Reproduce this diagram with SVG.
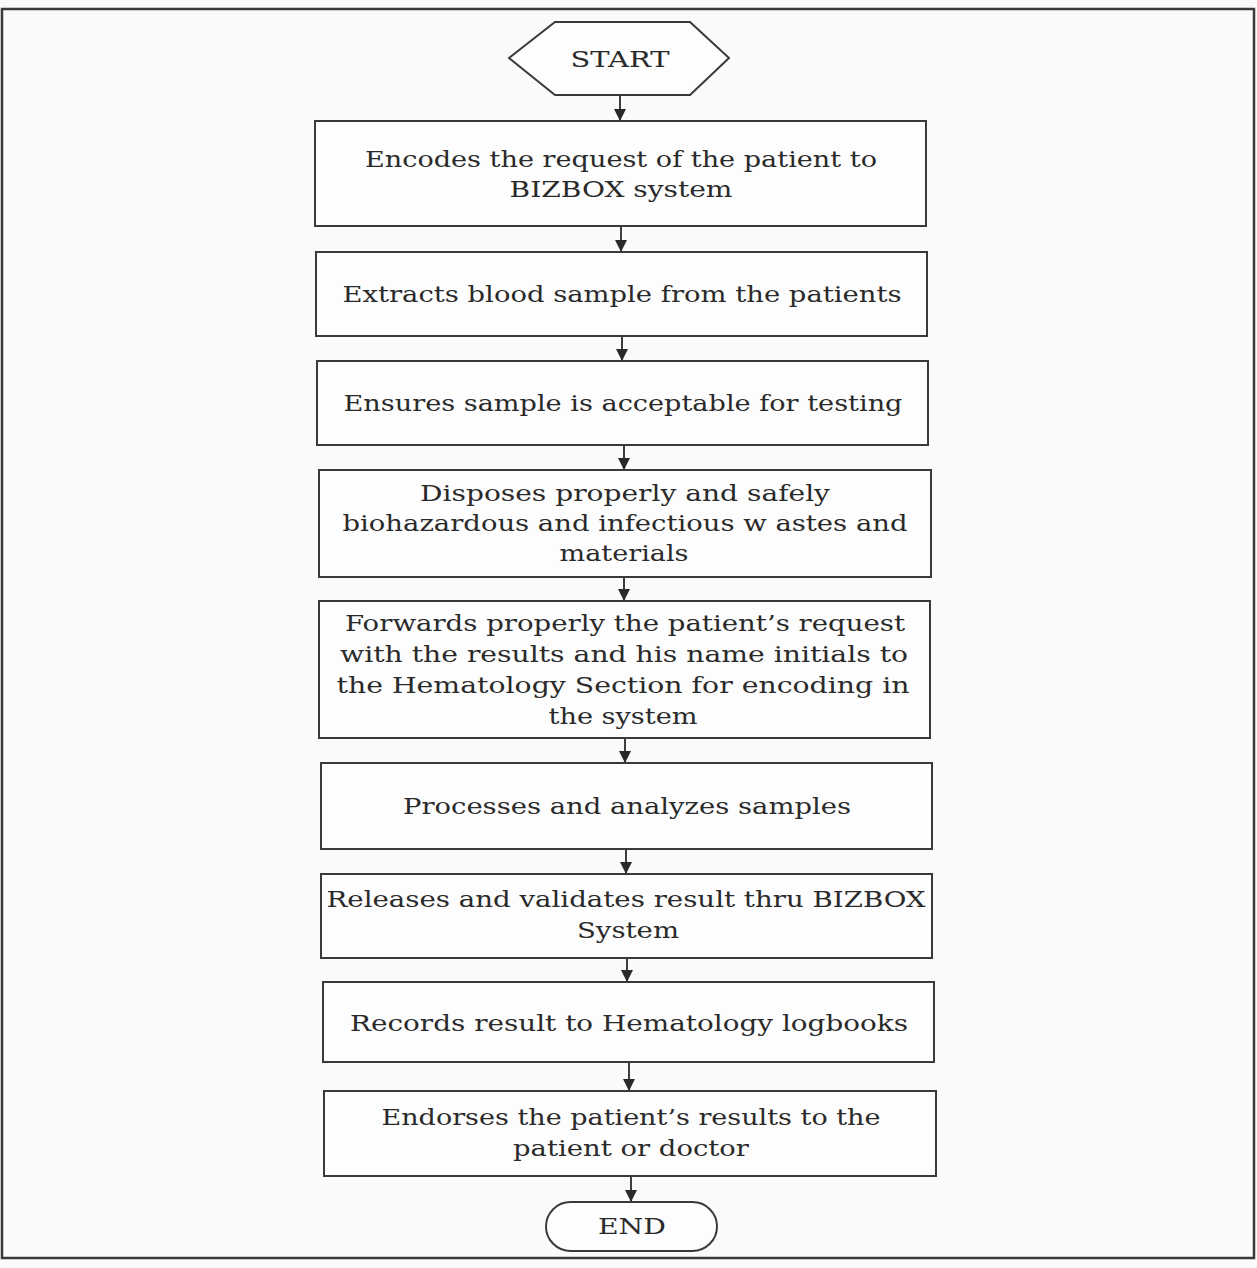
<svg xmlns="http://www.w3.org/2000/svg" width="1257" height="1268" viewBox="0 0 1257 1268">
<defs>
<marker id="ah" viewBox="0 0 10 10" refX="10" refY="5" markerWidth="12" markerHeight="12" markerUnits="userSpaceOnUse" orient="auto">
<path d="M0,0 L10,5 L0,10 z" fill="#2a2a2a"/>
</marker>
<style>
.box{fill:#fdfdfd;stroke:#3a3a3a;stroke-width:2}
.t{font-family:"DejaVu Serif","Liberation Serif",serif;font-size:23px;fill:#2a2a2a;text-anchor:middle}
.c{stroke:#2a2a2a;stroke-width:1.8;fill:none;marker-end:url(#ah)}
</style>
</defs>
<rect x="0" y="0" width="1257" height="1268" fill="#fafafa"/>
<rect x="2" y="9" width="1252" height="1249" fill="none" stroke="#3a3a3a" stroke-width="2.5"/>

<g id="connectors">
<line class="c" x1="620" y1="95" x2="620" y2="121"/>
<line class="c" x1="621" y1="226" x2="621" y2="252"/>
<line class="c" x1="622" y1="336" x2="622" y2="361"/>
<line class="c" x1="624" y1="445" x2="624" y2="470"/>
<line class="c" x1="624" y1="577" x2="624" y2="601"/>
<line class="c" x1="625" y1="738" x2="625" y2="763"/>
<line class="c" x1="626" y1="849" x2="626" y2="874"/>
<line class="c" x1="627" y1="958" x2="627" y2="982"/>
<line class="c" x1="629" y1="1062" x2="629" y2="1091"/>
<line class="c" x1="631" y1="1176" x2="631" y2="1202"/>
</g>

<g id="start">
<polygon class="box" points="555,22 690,22 729,58 690,95 555,95 509,58"/>
<text class="t" x="620" y="67" textLength="99" lengthAdjust="spacingAndGlyphs">START</text>
</g>

<g id="n1">
<rect class="box" x="315" y="121" width="611" height="105"/>
<text class="t" x="621" y="167" textLength="512" lengthAdjust="spacingAndGlyphs">Encodes the request of the patient to</text>
<text class="t" x="621" y="197" textLength="223" lengthAdjust="spacingAndGlyphs">BIZBOX system</text>
</g>

<g id="n2">
<rect class="box" x="316" y="252" width="611" height="84"/>
<text class="t" x="622" y="302" textLength="559" lengthAdjust="spacingAndGlyphs">Extracts blood sample from the patients</text>
</g>

<g id="n3">
<rect class="box" x="317" y="361" width="611" height="84"/>
<text class="t" x="623" y="411" textLength="559" lengthAdjust="spacingAndGlyphs">Ensures sample is acceptable for testing</text>
</g>

<g id="n4">
<rect class="box" x="319" y="470" width="612" height="107"/>
<text class="t" x="625" y="501" textLength="410" lengthAdjust="spacingAndGlyphs">Disposes properly and safely</text>
<text class="t" x="625" y="531" textLength="565" lengthAdjust="spacingAndGlyphs">biohazardous and infectious w astes and</text>
<text class="t" x="624" y="561" textLength="129" lengthAdjust="spacingAndGlyphs">materials</text>
</g>

<g id="n5">
<rect class="box" x="319" y="601" width="611" height="137"/>
<text class="t" x="625" y="631" textLength="560" lengthAdjust="spacingAndGlyphs">Forwards properly the patient’s request</text>
<text class="t" x="624" y="662" textLength="568" lengthAdjust="spacingAndGlyphs">with the results and his name initials to</text>
<text class="t" x="623" y="693" textLength="573" lengthAdjust="spacingAndGlyphs">the Hematology Section for encoding in</text>
<text class="t" x="623" y="724" textLength="149" lengthAdjust="spacingAndGlyphs">the system</text>
</g>

<g id="n6">
<rect class="box" x="321" y="763" width="611" height="86"/>
<text class="t" x="627" y="814" textLength="448" lengthAdjust="spacingAndGlyphs">Processes and analyzes samples</text>
</g>

<g id="n7">
<rect class="box" x="321" y="874" width="611" height="84"/>
<text class="t" x="626" y="907" textLength="599" lengthAdjust="spacingAndGlyphs">Releases and validates result thru BIZBOX</text>
<text class="t" x="628" y="938" textLength="102" lengthAdjust="spacingAndGlyphs">System</text>
</g>

<g id="n8">
<rect class="box" x="323" y="982" width="611" height="80"/>
<text class="t" x="629" y="1031" textLength="558" lengthAdjust="spacingAndGlyphs">Records result to Hematology logbooks</text>
</g>

<g id="n9">
<rect class="box" x="324" y="1091" width="612" height="85"/>
<text class="t" x="631" y="1125" textLength="499" lengthAdjust="spacingAndGlyphs">Endorses the patient’s results to the</text>
<text class="t" x="631" y="1156" textLength="236" lengthAdjust="spacingAndGlyphs">patient or doctor</text>
</g>

<g id="end">
<rect class="box" x="546" y="1202" width="171" height="49" rx="24.5" ry="24.5"/>
<text class="t" x="632" y="1234" textLength="68" lengthAdjust="spacingAndGlyphs">END</text>
</g>
</svg>
